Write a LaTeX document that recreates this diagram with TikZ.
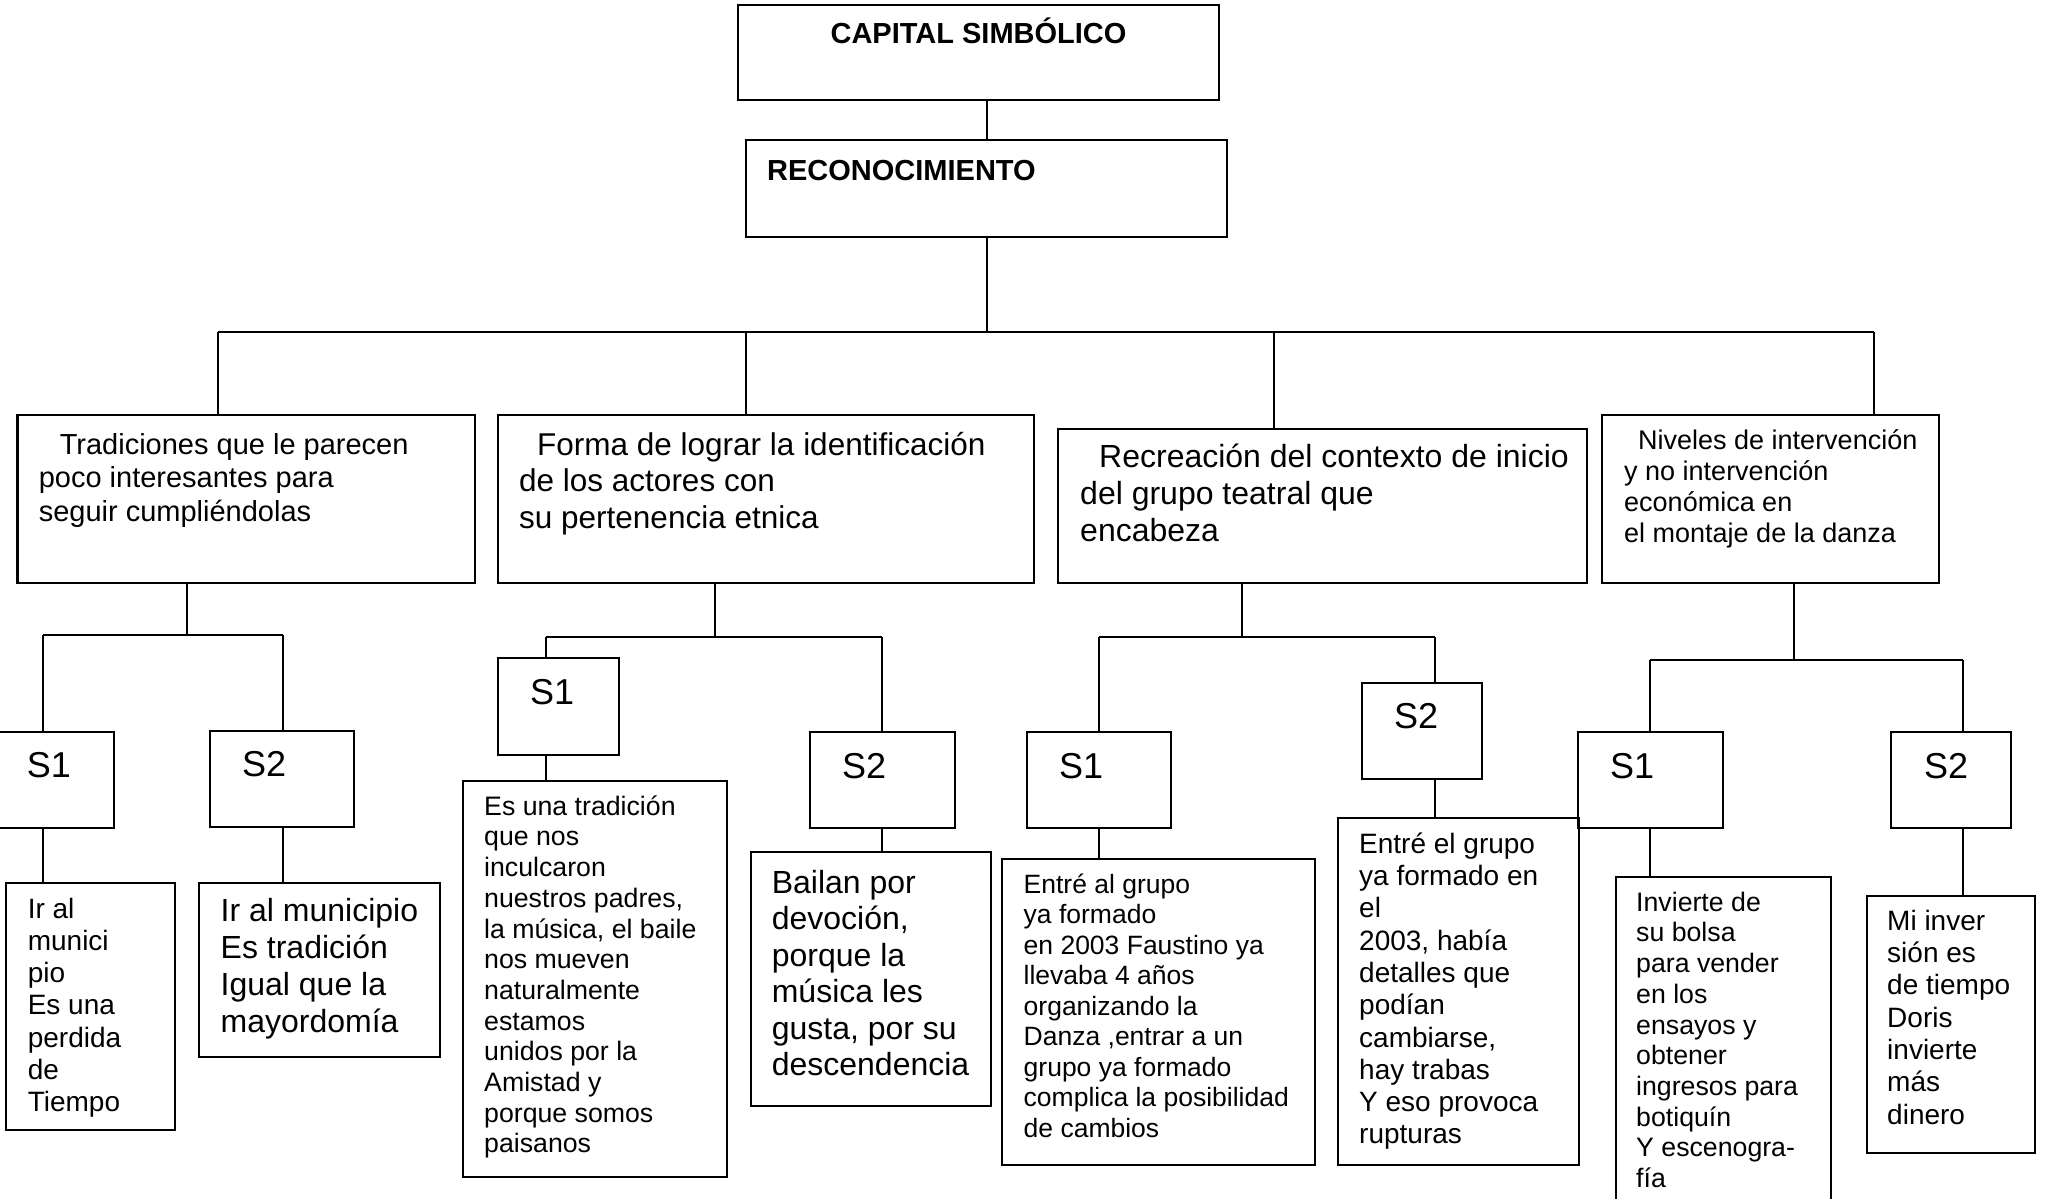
\documentclass[tikz,border=0pt]{standalone}
\usepackage{fontspec}
\setmainfont{Liberation Sans}
\usetikzlibrary{fit}
\begin{document}
\begin{tikzpicture}[x=1pt,y=-1pt,
  box/.style={draw, line width=2.2pt, inner sep=0pt},
  con/.style={line width=1.6pt},
  tx/.style n args={2}{font=\fontsize{#1}{#2}\selectfont, anchor=north west, inner sep=0pt, align=left, yshift={0.7*#2*1pt}},
  lab/.style={font=\fontsize{36}{41}\selectfont, anchor=base west, inner sep=0pt},
  ttl/.style={font=\bfseries\fontsize{29}{33}\selectfont, inner sep=0pt}]
\useasboundingbox (0,0) rectangle (2046,1199);
\clip (0,0) rectangle (2046,1199);
\fill[white] (0,0) rectangle (2046,1199);

% boxes
\node[box, fit={(738,5) (1219,100)}] (cap) {};
\node[box, fit={(746,140) (1227,237)}] (rec) {};
\node[box, fit={(17.5,415) (475,583)}] (A) {};
\node[box, fit={(498,415) (1034,583)}] (B) {};
\node[box, fit={(1058,429) (1587,583)}] (C) {};
\node[box, fit={(1602,415) (1939,583)}] (D) {};
\node[box, fit={(-5,732) (114,828)}] (sA1) {};
\node[box, fit={(210,731) (354,827)}] (sA2) {};
\node[box, fit={(498,658) (619,755)}] (sB1) {};
\node[box, fit={(810,732) (955,828)}] (sB2) {};
\node[box, fit={(1027,732) (1171,828)}] (sC1) {};
\node[box, fit={(1362,683) (1482,779)}] (sC2) {};
\node[box, fit={(1578,732) (1723,828)}] (sD1) {};
\node[box, fit={(1891,732) (2011,828)}] (sD2) {};
\node[box, fit={(6,883) (175,1130)}] (lA1) {};
\node[box, fit={(199,883) (440,1057)}] (lA2) {};
\node[box, fit={(463,781) (727,1177)}] (lB1) {};
\node[box, fit={(751,852) (991,1106)}] (lB2) {};
\node[box, fit={(1002,859) (1315,1165)}] (lC1) {};
\node[box, fit={(1338,818) (1579,1165)}] (lC2) {};
\node[box, fit={(1616,877) (1831,1230)}] (lD1) {};
\node[box, fit={(1867,896) (2035,1153)}] (lD2) {};

% junctions
\coordinate (jR) at (987,332);
\coordinate (bA) at (218,332);
\coordinate (bB) at (746,332);
\coordinate (bC) at (1274,332);
\coordinate (bD) at (1874,332);
\coordinate (jA) at (187,635);
\coordinate (jA1) at (43,635);
\coordinate (jA2) at (283,635);
\coordinate (jB) at (715,637);
\coordinate (jB1) at (546,637);
\coordinate (jB2) at (882,637);
\coordinate (jC) at (1242,637);
\coordinate (jC1) at (1099,637);
\coordinate (jC2) at (1435,637);
\coordinate (jD) at (1794,660);
\coordinate (jD1) at (1650,660);
\coordinate (jD2) at (1963,660);

% connectors
\draw[con] (cap.south -| jR) -- (rec.north -| jR);
\draw[con] (rec.south -| jR) -- (jR);
\draw[con] (bA) -- (bD);
\draw[con] (bA) -- (A.north -| bA);
\draw[con] (bB) -- (B.north -| bB);
\draw[con] (bC) -- (C.north -| bC);
\draw[con] (bD) -- (D.north -| bD);

\draw[con] (A.south -| jA) -- (jA);
\draw[con] (jA1) -- (jA2);
\draw[con] (jA1) -- (sA1.north -| jA1);
\draw[con] (jA2) -- (sA2.north -| jA2);
\draw[con] (sA1.south -| jA1) -- (lA1.north -| jA1);
\draw[con] (sA2.south -| jA2) -- (lA2.north -| jA2);

\draw[con] (B.south -| jB) -- (jB);
\draw[con] (jB1) -- (jB2);
\draw[con] (jB1) -- (sB1.north -| jB1);
\draw[con] (jB2) -- (sB2.north -| jB2);
\draw[con] (sB1.south -| jB1) -- (lB1.north -| jB1);
\draw[con] (sB2.south -| jB2) -- (lB2.north -| jB2);

\draw[con] (C.south -| jC) -- (jC);
\draw[con] (jC1) -- (jC2);
\draw[con] (jC1) -- (sC1.north -| jC1);
\draw[con] (jC2) -- (sC2.north -| jC2);
\draw[con] (sC1.south -| jC1) -- (lC1.north -| jC1);
\draw[con] (sC2.south -| jC2) -- (lC2.north -| jC2);

\draw[con] (D.south -| jD) -- (jD);
\draw[con] (jD1) -- (jD2);
\draw[con] (jD1) -- (sD1.north -| jD1);
\draw[con] (jD2) -- (sD2.north -| jD2);
\draw[con] (sD1.south -| jD1) -- (lD1.north -| jD1);
\draw[con] (sD2.south -| jD2) -- (lD2.north -| jD2);

% titles
\node[ttl, anchor=base] (tcap) at (978.5,44) {CAPITAL SIMBÓLICO};
\node[ttl, anchor=base west] (trec) at (767,180) {RECONOCIMIENTO};

% level 2 texts
\node[tx={29}{33.4}] (tA) at (38.6,454) {\strut\hspace*{21pt}Tradiciones que le parecen\\poco interesantes para\\seguir cumpliéndolas};
\node[tx={31.5}{36.5}] (tB) at (519,455) {\strut\hspace*{18pt}Forma de lograr la identificación\\de los actores con\\su pertenencia etnica};
\node[tx={32}{37}] (tC) at (1080,467) {\strut\hspace*{19pt}Recreación del contexto de inicio\\del grupo teatral que\\encabeza};
\node[tx={27}{31}] (tD) at (1624,449) {\strut\hspace*{14pt}Niveles de intervención\\y no intervención\\económica en\\el montaje de la danza};

% S labels
\node[lab] (nA1) at (26.7,777) {S1};
\node[lab] (nA2) at (242,776) {S2};
\node[lab] (nB1) at (530,704) {S1};
\node[lab] (nB2) at (842,778) {S2};
\node[lab] (nC1) at (1059,778) {S1};
\node[lab] (nC2) at (1394,728) {S2};
\node[lab] (nD1) at (1610,778) {S1};
\node[lab] (nD2) at (1924,778) {S2};

% leaf texts
\node[tx={28}{32.2}] (xA1) at (27.6,918) {\strut Ir al\\munici\\pio\\Es una\\perdida\\de\\Tiempo};
\node[tx={32}{37}] (xA2) at (220.5,921) {\strut Ir al municipio\\Es tradición\\Igual que la\\mayordomía};
\node[tx={26.7}{30.7}] (xB1) at (484,815) {\strut Es una tradición\\que nos\\inculcaron\\nuestros padres,\\la música, el baile\\nos mueven\\naturalmente\\estamos\\unidos por la\\Amistad y\\porque somos\\paisanos};
\node[tx={32}{36.5}] (xB2) at (771.6,893) {\strut Bailan por\\devoción,\\porque la\\música les\\gusta, por su\\descendencia};
\node[tx={26.5}{30.5}] (xC1) at (1023.5,893) {\strut Entré al grupo\\ya formado\\en 2003 Faustino ya\\llevaba 4 años\\organizando la\\Danza ,entrar a un\\grupo ya formado\\complica la posibilidad\\de cambios};
\node[tx={28}{32.3}] (xC2) at (1359,853) {\strut Entré el grupo\\ya formado en\\el\\2003, había\\detalles que\\podían\\cambiarse,\\hay trabas\\Y eso provoca\\rupturas};
\node[tx={26.7}{30.7}] (xD1) at (1636,911) {\strut Invierte de\\su bolsa\\para vender\\en los\\ensayos y\\obtener\\ingresos para\\botiquín\\Y escenogra-\\fía};
\node[tx={28}{32.3}] (xD2) at (1887,930) {\strut Mi inver\\sión es\\de tiempo\\Doris\\invierte\\más\\dinero};
\end{tikzpicture}
\end{document}
